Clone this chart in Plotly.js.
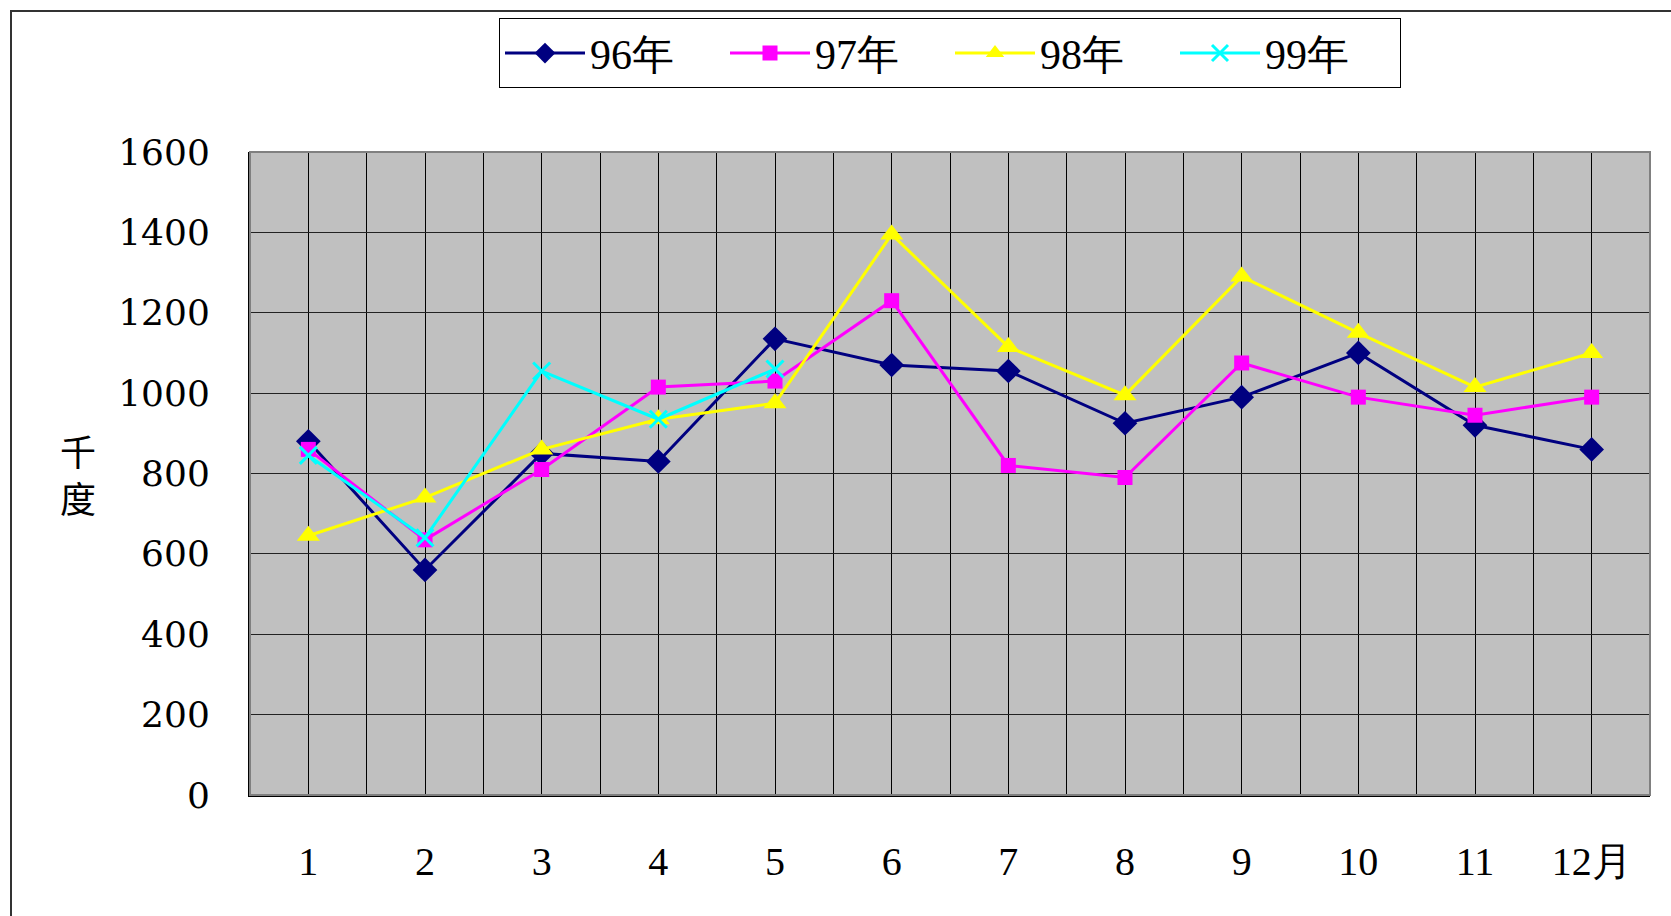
<!DOCTYPE html>
<html>
<head>
<meta charset="utf-8">
<script src="https://cdn.plot.ly/plotly-3.0.1.min.js"></script>
<style>
  html, body { margin: 0; padding: 0; background: #fff; overflow: hidden; }
  #frame { position: absolute; left: 10px; top: 10px; width: 1700px; height: 950px;
           border-left: 2px solid #333; border-top: 2px solid #333; pointer-events: none; z-index: 5; }
  #chart { position: absolute; left: 0; top: 0; width: 1671px; height: 916px; }
</style>
</head>
<body>
<div id="chart"></div>
<div id="frame"></div>
<script>
const months = [1, 2, 3, 4, 5, 6, 7, 8, 9, 10, 11, 12];
const monthLabels = ["1", "2", "3", "4", "5", "6", "7", "8", "9", "10", "11", "12月"];
const seriesNames = ["96年", "97年", "98年", "99年"];
const y96 = [880, 560, 850, 830, 1135, 1070, 1055, 925, 990, 1100, 920, 860];
const y97 = [860, 635, 810, 1015, 1030, 1230, 820, 790, 1075, 990, 945, 990];
const y98 = [645, 740, 860, 935, 975, 1395, 1115, 995, 1290, 1150, 1015, 1100];
const y99 = [845, 640, 1055, 935, 1060, null, null, null, null, null, null, null];
const yTicks = [0, 200, 400, 600, 800, 1000, 1200, 1400, 1600];

const styles = [
  {color: "#000080", symbol: "diamond", size: 19},
  {color: "#ff00ff", symbol: "square", size: 15},
  {color: "#ffff00", symbol: "triangle-up", size: 20},
  {color: "#00ffff", symbol: "x-thin-open", size: 17}
];
const data = [y96, y97, y98, y99].map((ys, i) => ({
  type: "scatter",
  mode: "lines+markers",
  name: seriesNames[i],
  x: months,
  y: ys,
  connectgaps: false,
  line: {color: styles[i].color, width: 3},
  marker: {color: styles[i].color, symbol: styles[i].symbol, size: styles[i].size,
           line: {color: styles[i].color, width: i === 3 ? 3 : 0}}
}));

const layout = {
  width: 1671, height: 916,
  margin: {l: 250, r: 21, t: 152, b: 121},
  paper_bgcolor: "#ffffff",
  plot_bgcolor: "#c0c0c0",
  showlegend: true,
  legend: {
    orientation: "h",
    x: 0.5, xanchor: "center",
    y: 1.208, yanchor: "top",
    bordercolor: "#000", borderwidth: 1,
    bgcolor: "#fff",
    font: {family: "Liberation Serif", size: 42, color: "#000"},
    itemwidth: 80,
    entrywidth: 130, entrywidthmode: "pixels",
    tracegroupgap: 0
  },
  xaxis: {
    range: [0.5, 12.5],
    tickmode: "array",
    tickvals: months,
    ticktext: monthLabels,
    showgrid: true, gridcolor: "#000", gridwidth: 1,
    minor: {tick0: 0.5, dtick: 1, showgrid: true, gridcolor: "#000", gridwidth: 1, ticks: ""},
    ticks: "",
    ticklabelstandoff: 30,
    showline: true, linecolor: "#000", linewidth: 2,
    zeroline: false,
    tickfont: {family: "Liberation Serif", size: 40, color: "#000"},
    fixedrange: true
  },
  yaxis: {
    range: [0, 1600],
    tickmode: "array",
    tickvals: yTicks,
    showgrid: true, gridcolor: "#222", gridwidth: 1,
    ticks: "",
    ticklabelstandoff: 31,
    showline: true, linecolor: "#000", linewidth: 2,
    zeroline: false,
    tickfont: {family: "DejaVu Serif", size: 36, color: "#000"},
    fixedrange: true
  },
  shapes: [
    {type: "rect", xref: "paper", yref: "paper", x0: 0, x1: 1, y0: 0, y1: 1,
     line: {color: "#808080", width: 2}, layer: "above"}
  ],
  annotations: [
    {xref: "paper", yref: "paper", x: -0.123, y: 0.5, xanchor: "center", yanchor: "middle",
     text: "千<br>度", showarrow: false,
     font: {family: "Noto Sans CJK TC", size: 36, color: "#000"}}
  ]
};

Plotly.newPlot("chart", data, layout, {displayModeBar: false, staticPlot: true});
</script>
</body>
</html>
